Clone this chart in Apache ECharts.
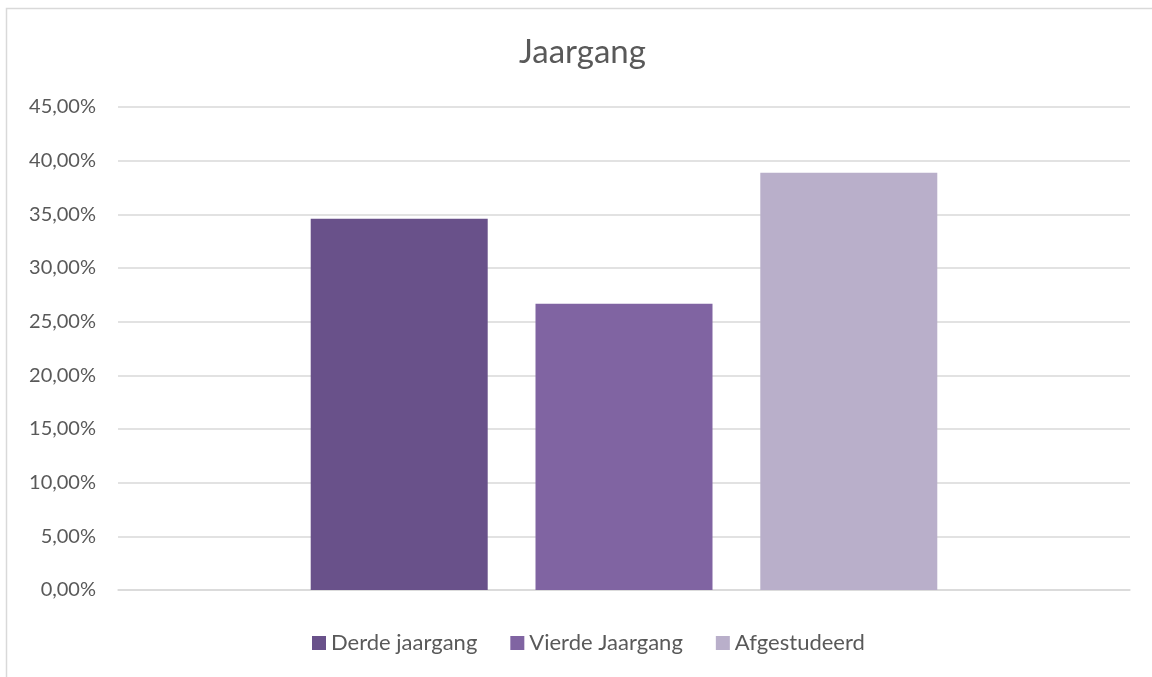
<!DOCTYPE html>
<html>
<head>
<meta charset="utf-8">
<script src="https://cdn.jsdelivr.net/npm/echarts@6/dist/echarts.min.js"></script>
<style>
  html, body { margin: 0; padding: 0; background: #fff; }
  #chart { width: 1152px; height: 677px; }
</style>
</head>
<body>
<div id="chart"></div>
<script>
// jaargang verdeling (in procenten)
const categories = ['Jaargang']
const seriesNames = ['Derde jaargang', 'Vierde Jaargang', 'Afgestudeerd']
const seriesValues = [34.59, 26.67, 38.88]
const barColors = ['#69518A', '#8064A2', '#B9AFCA']

const chart = echarts.init(document.getElementById('chart'))

const series = []
for (var i = 0; i < seriesNames.length; i++) {
  series.push({
    name: seriesNames[i],
    type: 'bar',
    data: [seriesValues[i]],
    barWidth: 177,
    barGap: '27%',
    itemStyle: { color: barColors[i] }
  })
}

const option = {
  backgroundColor: '#ffffff',
  animation: false,
  textStyle: { fontFamily: 'Lato' },
  graphic: [{
    type: 'rect',
    shape: { x: 6.5, y: 8.5, width: 1200, height: 720 },
    style: { fill: 'none', stroke: '#d9d9d9', lineWidth: 1.5 },
    silent: true
  }],
  title: {
    text: 'Jaargang',
    left: 514,
    top: 31,
    textStyle: { fontSize: 33, fontWeight: 'normal', color: '#595959', fontFamily: 'Lato' }
  },
  legend: {
    left: 307,
    top: 627,
    itemWidth: 14,
    itemHeight: 14,
    itemGap: 33,
    icon: 'rect',
    textStyle: { fontSize: 22, color: '#595959', fontFamily: 'Lato' },
    data: seriesNames
  },
  grid: { left: 118, right: 22, top: 107, bottom: 87 },
  xAxis: {
    type: 'category',
    data: categories,
    axisLine: { show: true, lineStyle: { color: '#d9d9d9', width: 1.5 } },
    axisTick: { show: false },
    axisLabel: { show: false }
  },
  yAxis: {
    type: 'value',
    min: 0,
    max: 45,
    interval: 5,
    axisLine: { show: false },
    axisTick: { show: false },
    axisLabel: {
      margin: 22,
      fontSize: 20,
      color: '#595959',
      fontFamily: 'Lato',
      formatter: function (v) { return v.toFixed(2).replace('.', ',') + '%' }
    },
    splitLine: { lineStyle: { color: '#d9d9d9', width: 1.5 } }
  },
  series: series
}

chart.setOption(option)
</script>
</body>
</html>
